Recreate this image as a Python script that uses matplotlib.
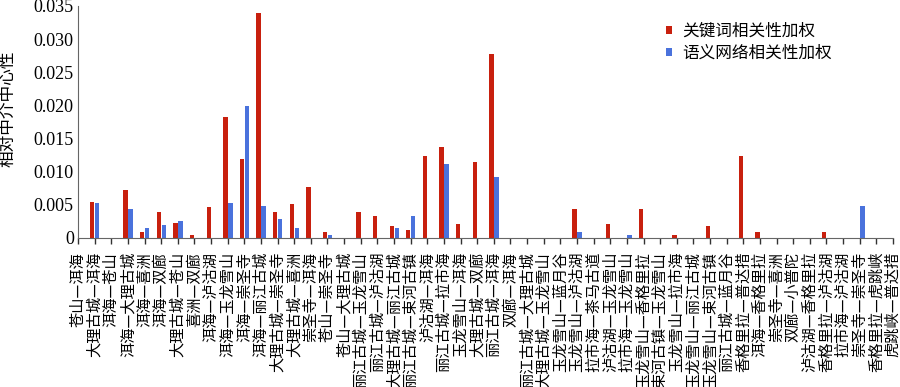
import numpy as np
import matplotlib.pyplot as plt

plt.rcParams['font.family'] = ['Noto Sans CJK SC', 'DejaVu Sans']

# 景点对（横轴类别）
pares = [
    '苍山—洱海', '大理古城—洱海', '洱海—苍山', '洱海—大理古城', '洱海—喜洲',
    '洱海—双廊', '大理古城—苍山', '喜洲—双廊', '洱海—泸沽湖', '洱海—玉龙雪山',
    '洱海—崇圣寺', '洱海—丽江古城', '大理古城—崇圣寺', '大理古城—喜洲', '崇圣寺—洱海',
    '苍山—崇圣寺', '苍山—大理古城', '丽江古城—玉龙雪山', '丽江古城—泸沽湖', '大理古城—丽江古城',
    '丽江古城—束河古镇', '泸沽湖—洱海', '丽江古城—拉市海', '玉龙雪山—洱海', '大理古城—双廊',
    '丽江古城—洱海', '双廊—洱海', '丽江古城—大理古城', '大理古城—玉龙雪山', '玉龙雪山—蓝月谷',
    '玉龙雪山—泸沽湖', '拉市海—茶马古道', '泸沽湖—玉龙雪山', '拉市海—玉龙雪山', '玉龙雪山—香格里拉',
    '束河古镇—玉龙雪山', '玉龙雪山—拉市海', '玉龙雪山—丽江古城', '玉龙雪山—束河古镇', '丽江古城—蓝月谷',
    '香格里拉—普达措', '洱海—香格里拉', '崇圣寺—喜洲', '双廊—小普陀', '泸沽湖—香格里拉',
    '香格里拉—泸沽湖', '拉市海—泸沽湖', '崇圣寺—崇圣寺', '香格里拉—虎跳峡', '虎跳峡—普达措',
]

# 关键词相关性加权
peso_clave = [
    0, 0.0055, 0, 0.0072, 0.00086,
    0.0039, 0.0022, 0.00045, 0.0047, 0.0183,
    0.0119, 0.0340, 0.0039, 0.0051, 0.00775,
    0.00086, 0, 0.0039, 0.00337, 0.00176,
    0.00126, 0.0124, 0.0137, 0.00217, 0.0114,
    0.02775, 0, 0, 0, 0,
    0.0043, 0, 0.00217, 0, 0.0043,
    0, 0.00045, 0, 0.00176, 0,
    0.0124, 0.00086, 0, 0, 0,
    0.00086, 0, 0, 0, 0,
]

# 语义网络相关性加权
peso_semantico = [
    0, 0.0053, 0, 0.0044, 0.00146,
    0.0020, 0.0025, 0, 0, 0.0053,
    0.0199, 0.0049, 0.0029, 0.0015, 0,
    0.0005, 0, 0, 0, 0.00146,
    0.00337, 0, 0.0111, 0, 0,
    0.0092, 0, 0, 0, 0,
    0.00096, 0, 0, 0.00045, 0,
    0, 0, 0, 0, 0,
    0, 0, 0, 0, 0,
    0, 0, 0.0049, 0, 0,
]

ROJO = '#C8200E'
AZUL = '#4A72DC'

fig = plt.figure(figsize=(9, 3.87), dpi=100)
ax = fig.add_axes([78 / 900, 1 - 238 / 387, 815 / 900, 232 / 387])

x = np.arange(len(pares))
ancho = 0.26
ax.bar(x - 0.14, peso_clave, ancho, color=ROJO, label='关键词相关性加权')
ax.bar(x + 0.16, peso_semantico, ancho, color=AZUL, label='语义网络相关性加权')

ax.set_xlim(0, len(pares) - 1)
ax.set_ylim(0, 0.035)

# Eje Y
yt = np.arange(0, 0.0351, 0.005)
ax.set_yticks(yt)
ax.set_yticklabels(['0' if v == 0 else f'{v:.3f}' for v in yt],
                   family='Liberation Serif', fontsize=13)
ax.tick_params(axis='y', length=0, pad=3)
ax.set_ylabel('相对中介中心性', fontsize=12)
ax.yaxis.set_label_coords(-0.076, 0.556)

# Eje X
ax.set_xticks(x)
ax.set_xticklabels(pares, rotation=90, fontsize=11)
ax.tick_params(axis='x', length=4, width=1, color='#333333', pad=6)

for lado in ['top', 'right']:
    ax.spines[lado].set_visible(False)
ax.spines['left'].set_color('#666666')
ax.spines['bottom'].set_color('#666666')

fig.legend(loc='upper left', bbox_to_anchor=(666 / 900, 1 - 23 / 387),
           frameon=False, fontsize=12, handlelength=0.36, handleheight=0.36,
           handletextpad=0.6, labelspacing=0.3, borderpad=0, borderaxespad=0)

plt.savefig('out.png', dpi=100)
